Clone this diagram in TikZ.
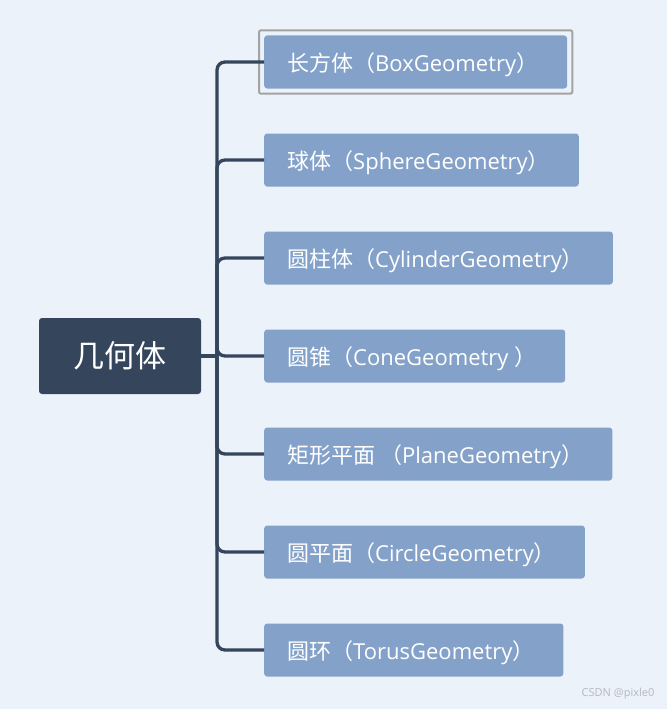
\documentclass[tikz,border=0pt]{standalone}
\usepackage{fontspec}
\newfontfamily\cjk{Noto Sans CJK SC}
\newfontfamily\lat{Open Sans}
\newcommand\geo[1]{{\lat #1}}
\usetikzlibrary{positioning,calc,fit}
\definecolor{cBack}{HTML}{EBF2FA}
\definecolor{cRoot}{HTML}{34455C}
\definecolor{cLeaf}{HTML}{84A2C9}
\definecolor{cFrame}{HTML}{A3A3A3}
\definecolor{cMark}{HTML}{B4B9BF}
\tikzset{
  rootbox/.style={rounded corners=3pt,fill=cRoot,text=white,inner sep=0pt,
                  font=\cjk\fontsize{31}{34}\selectfont,minimum width=162pt,minimum height=76pt},
  leafbox/.style={rounded corners=3pt,fill=cLeaf,text=white,anchor=west,inner xsep=23pt,
                  inner ysep=0pt,text height=20pt,text depth=2pt,
                  font=\cjk\fontsize{22}{26}\selectfont,minimum height=53pt},
  link/.style={line width=3.3pt,draw=cRoot,rounded corners=8pt},
  pickbox/.style={rounded corners=2pt,draw=cFrame,line width=2pt,inner sep=5pt},
  credit/.style={font=\lat\fontsize{11}{13}\selectfont,text=cMark}
}

\begin{document}
\begin{tikzpicture}[x=1pt,y=-1pt]
  \fill[cBack] (0,0) rectangle (667,709);
  \useasboundingbox (0,0) rectangle (667,709);

  \node[rootbox] (root) at (120,356) {几何体};
  \coordinate (trunk) at (217,356);

  \foreach \i/\y/\txt in {1/62/长方体（\geo{BoxGeometry}）,
                          2/160/球体（\geo{SphereGeometry}）,
                          3/258/圆柱体（\geo{CylinderGeometry}）,
                          4/356/圆锥（\geo{ConeGeometry }）,
                          5/454/矩形平面 （\geo{PlaneGeometry}）,
                          6/552/圆平面（\geo{CircleGeometry}）,
                          7/650/圆环（\geo{TorusGeometry}）} {
    \node[leafbox] (leaf\i) at (264,\y) {\txt\kern6pt};
  }
  \node[pickbox,fit=(leaf1)] (pick) {};

  % branches
  \foreach \i in {1,...,7} {
    \draw[link] (trunk) |- (leaf\i.west);
  }
  \draw[link] (root.east) -- (trunk);

  \node[credit] (mark) at (618,694) {CSDN @pixle0};
\end{tikzpicture}
\end{document}
